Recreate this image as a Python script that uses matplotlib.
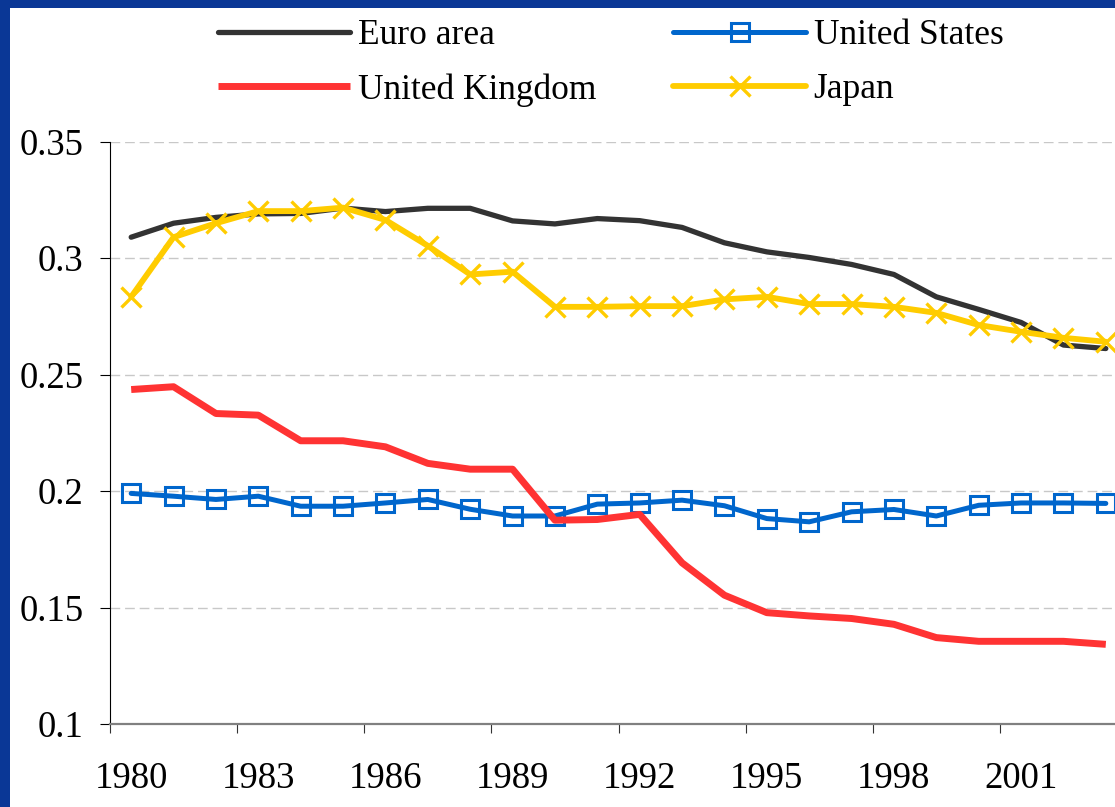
import matplotlib.pyplot as plt
from matplotlib.patches import Rectangle
from matplotlib.lines import Line2D

years = list(range(1980, 2004))
euro_area = [0.309, 0.315, 0.3175, 0.319, 0.3192, 0.3215, 0.320, 0.3214, 0.3214, 0.316,
             0.3147, 0.317, 0.3161, 0.3132, 0.3066, 0.3027, 0.3003, 0.2973, 0.293, 0.2834,
             0.278, 0.2724, 0.2627, 0.2612]
united_states = [0.199, 0.1978, 0.1964, 0.1978, 0.1935, 0.1935, 0.1949, 0.1964, 0.1922, 0.1893,
                 0.1893, 0.1944, 0.1949, 0.1961, 0.1937, 0.1882, 0.1868, 0.1911, 0.1921, 0.1893,
                 0.1939, 0.1949, 0.1949, 0.1947]
united_kingdom = [0.2436, 0.2448, 0.2333, 0.2326, 0.2216, 0.2216, 0.219, 0.2119, 0.2094, 0.2094,
                  0.1875, 0.1878, 0.190, 0.1692, 0.1553, 0.1478, 0.1464, 0.1453, 0.1428, 0.1371,
                  0.1355, 0.1355, 0.1355, 0.1342]
japan = [0.2834, 0.309, 0.315, 0.3202, 0.3202, 0.3217, 0.3164, 0.3053, 0.293, 0.2942,
         0.2791, 0.2791, 0.2794, 0.2794, 0.2823, 0.2834, 0.2803, 0.2803, 0.2791, 0.2765,
         0.2713, 0.2684, 0.2658, 0.2641]
y_ticks = [0.1, 0.15, 0.2, 0.25, 0.3, 0.35]
y_labels = ['0.1', '0.15', '0.2', '0.25', '0.3', '0.35']

plt.rcParams['font.family'] = ['Liberation Serif', 'DejaVu Serif']

W, H = 1115, 807
fig = plt.figure(figsize=(W / 100, H / 100), dpi=100)
fig.patch.set_facecolor('#0A3796')
fig.patches.append(Rectangle((10 / W, 0), 1, 1 - 8 / H, transform=fig.transFigure,
                             facecolor='white', edgecolor='none', zorder=-10))

ax = fig.add_axes([110 / W, 1 - 724 / H, (1127 - 110) / W, (724 - 141.7) / H])
ax.set_facecolor('none')

x = list(range(len(years)))
ax.plot(x, euro_area, color='#333333', lw=3.8, solid_capstyle='round',
        solid_joinstyle='round', zorder=3)
ax.plot(x, united_states, color='#0066CC', lw=3.6, marker='s', ms=12.5,
        mfc='none', mec='#0066CC', mew=2.2, solid_capstyle='round', zorder=4)
ax.plot(x, united_kingdom, color='#FF3333', lw=5, solid_capstyle='butt', zorder=5)
ax.plot(x, japan, color='#FFCC00', lw=4.2, marker='x', ms=14, mew=2.4,
        solid_capstyle='round', zorder=6)

ax.set_xlim(-0.5, len(years) - 0.5)
ax.set_ylim(0.1, 0.35)
ax.set_yticks(y_ticks, labels=y_labels)
ax.set_xticks([i - 0.5 for i in range(0, len(years) + 1, 3)], labels=[])
ax.set_xticks(x[::3], labels=[str(y) for y in years[::3]], minor=True)

ax.tick_params(axis='y', length=7, width=0.8, pad=12, labelsize=26.5, colors='black')
ax.tick_params(axis='x', which='major', length=6.5, width=0.8, color='#333333')
ax.tick_params(axis='x', which='minor', length=0, pad=27, labelsize=26.5)

ax.spines['top'].set_visible(False)
ax.spines['right'].set_visible(False)
ax.spines['left'].set_linewidth(0.8)
ax.spines['bottom'].set_color('#808080')
ax.spines['bottom'].set_linewidth(1.6)
ax.spines['bottom'].set_zorder(7)

ax.yaxis.grid(True, color='#C8C8C8', lw=1, linestyle=(0, (7, 3.5)))
ax.set_axisbelow(True)

handles = [
    Line2D([], [], color='#333333', lw=3.8, solid_capstyle='round'),
    Line2D([], [], color='#FF3333', lw=5, solid_capstyle='butt'),
    Line2D([], [], color='#0066CC', lw=3.6, marker='s', ms=12.5, mfc='none',
           mec='#0066CC', mew=2.2, solid_capstyle='round'),
    Line2D([], [], color='#FFCC00', lw=4.2, marker='x', ms=14, mew=2.4,
           solid_capstyle='round'),
]
labels = ['Euro area', 'United Kingdom', 'United States', 'Japan']
fig.legend(handles, labels, ncol=2, loc='upper left',
           bbox_to_anchor=(218 / W, 1 - 19 / H), frameon=False, fontsize=25.5,
           handlelength=3.73, handletextpad=0.23, columnspacing=2.17,
           labelspacing=0.6, borderpad=0, borderaxespad=0, numpoints=1)

fig.savefig('out.png', dpi=100, facecolor=fig.get_facecolor())
